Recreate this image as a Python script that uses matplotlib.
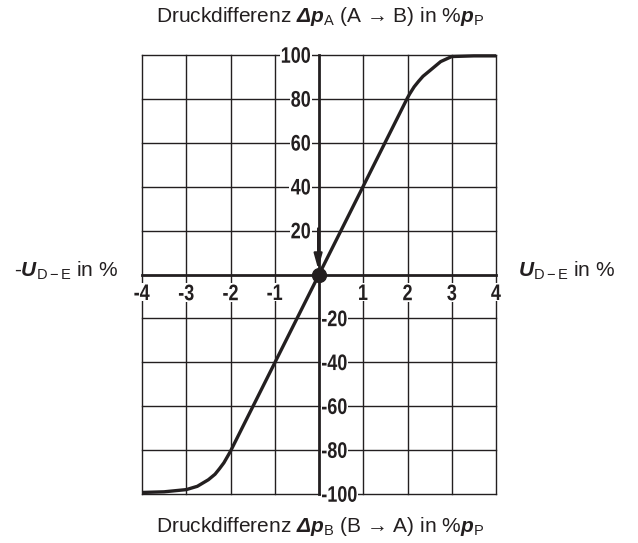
import matplotlib
matplotlib.use("Agg")
import matplotlib.pyplot as plt
from matplotlib.font_manager import FontProperties
from matplotlib.patches import PathPatch, Rectangle
from matplotlib.textpath import TextPath
from matplotlib.transforms import Affine2D

# Kennlinie: Druckdifferenz ueber Ansteuersignal
x_lo = [-4.0, -3.5, -3.0, -2.75, -2.5, -2.35, -2.25, -2.15, -2.05, -2.0]
y_lo = [-99.3, -99.0, -98.0, -96.5, -93.5, -91.0, -88.5, -85.8, -82.3, -80.5]
x_hi = [2.0, 2.05, 2.15, 2.25, 2.35, 2.5, 2.75, 3.0, 3.5, 4.0]
y_hi = [80.5, 82.3, 85.5, 88.0, 90.3, 92.8, 97.0, 99.3, 99.6, 99.6]

x_ticks = [-4, -3, -2, -1, 1, 2, 3, 4]
y_ticks_pos = [20, 40, 60, 80, 100]
y_ticks_neg = [-20, -40, -60, -80, -100]

plt.rcParams["mathtext.fontset"] = "custom"
plt.rcParams["mathtext.rm"] = "Liberation Sans"
plt.rcParams["mathtext.bfit"] = "Liberation Sans:italic:bold"
plt.rcParams["mathtext.it"] = "Liberation Sans:italic"

INK = "#231f20"
TXT_FONT = ["Liberation Sans", "DejaVu Sans"]
TXT_SIZE = 15
NUM_PROP = FontProperties(family="Liberation Sans", weight="bold")
NUM_SIZE = 22.5      # px em-size of the scale numbers
NUM_SQUEEZE = 0.80   # horizontal compression -> narrow look

fig = plt.figure(figsize=(6.38, 5.43), dpi=100)
ax = fig.add_axes([142 / 638, 1 - 494 / 543, 354 / 638, 439 / 543])
ax.set_xlim(-4, 4)
ax.set_ylim(-100, 100)
ax.axis("off")


def narrow_number(x, y, s, ha, va, dx=0.0, dy=0.0):
    """Draw a condensed bold number at data point (x, y), offset in px."""
    tp = TextPath((0, 0), s, size=NUM_SIZE, prop=NUM_PROP)
    ext = tp.get_extents()
    w = ext.width * NUM_SQUEEZE
    h = ext.height
    px, py = ax.transData.transform((x, y))
    px += dx
    py += dy
    ox = {"left": 0, "center": -w / 2, "right": -w}[ha]
    oy = {"bottom": 0, "center": -h / 2, "top": -h}[va]
    tr = (Affine2D().translate(-ext.x0, -ext.y0).scale(NUM_SQUEEZE, 1.0)
          .translate(px + ox, py + oy))
    pad = 1.5
    fig.patches.append(Rectangle((px + ox - pad, py + oy - pad), w + 2 * pad,
                                 h + 2 * pad, transform=None, facecolor="white",
                                 edgecolor="none", zorder=3))
    fig.patches.append(PathPatch(tr.transform_path(tp), transform=None,
                                 facecolor=INK, edgecolor="none", zorder=3.5))


# Raster
for gx in range(-4, 5):
    if gx != 0:
        ax.plot([gx, gx], [-100, 100], color=INK, lw=1.0, zorder=1, clip_on=False)
for gy in range(-100, 101, 20):
    if gy != 0:
        ax.plot([-4, 4], [gy, gy], color=INK, lw=1.0, zorder=1, clip_on=False)

# Achsen
ax.plot([-4, 4], [0, 0], color=INK, lw=2.0, zorder=2, clip_on=False)
ax.plot([0, 0], [-100, 100], color=INK, lw=2.0, zorder=2, clip_on=False)

# Kurve
xs = x_lo + x_hi
ys = y_lo + y_hi
ax.plot(xs, ys, color=INK, lw=2.4, solid_capstyle="butt",
        solid_joinstyle="round", zorder=4, clip_on=False)
ax.plot([0], [0], "o", color=INK, ms=10, zorder=5)
ax.annotate("", xy=(-0.02, 2.5), xytext=(-0.02, 21),
            arrowprops=dict(arrowstyle="-|>,head_length=0.9,head_width=0.25",
                            color=INK, lw=1.6, shrinkA=0, shrinkB=0),
            zorder=5)

for t in x_ticks:
    narrow_number(t, 0, f"{t}", "center", "top", dy=-10)
for t in y_ticks_pos:
    narrow_number(0, t, f"{t}", "right", "center", dx=-9)
for t in y_ticks_neg:
    narrow_number(0, t, f"{t}", "left", "center", dx=3)

fig.text(320 / 638, 1 - 16 / 543,
         r"Druckdifferenz $\mathbfit{Δp}_{\mathrm{A}}$ (A → B) in %$\mathbfit{p}_{\mathrm{P}}$",
         ha="center", va="center", fontsize=TXT_SIZE, family=TXT_FONT, color=INK)
fig.text(320 / 638, 1 - 527 / 543,
         r"Druckdifferenz $\mathbfit{Δp}_{\mathrm{B}}$ (B → A) in %$\mathbfit{p}_{\mathrm{P}}$",
         ha="center", va="center", fontsize=TXT_SIZE, family=TXT_FONT, color=INK)
fig.text(14 / 638, 1 - 271 / 543, r"-$\mathbfit{U}_{\mathrm{D-E}}$ in %",
         ha="left", va="center", fontsize=TXT_SIZE, family=TXT_FONT, color=INK)
fig.text(518 / 638, 1 - 271 / 543, r"$\mathbfit{U}_{\mathrm{D-E}}$ in %",
         ha="left", va="center", fontsize=TXT_SIZE, family=TXT_FONT, color=INK)

fig.savefig("out.png", dpi=100)
